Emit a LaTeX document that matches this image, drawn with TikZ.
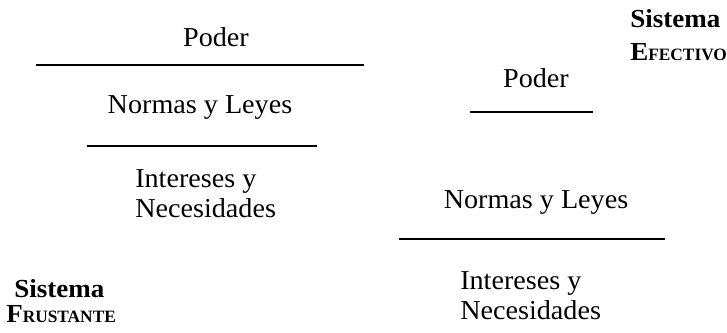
\documentclass[tikz,border=0pt]{standalone}
\usepackage{fontspec}
\setmainfont[FakeStretch=1.03]{Liberation Serif}
\newfontfamily\boldserif[FakeStretch=1.04]{Liberation Serif Bold}
\newfontfamily\boldsmall{Liberation Serif Bold}
\newcommand\fakesc[1]{{\boldsmall\fontsize{13}{15}\selectfont #1}}
\begin{document}
\begin{tikzpicture}[x=0.75pt,y=-0.75pt,
  lbl/.style={inner sep=0pt,anchor=base,font=\fontsize{20.5}{24}\selectfont},
  lblw/.style={inner sep=0pt,anchor=base west,font=\fontsize{20.5}{24}\selectfont},
  title/.style={inner sep=0pt,anchor=base west,font=\boldserif\fontsize{19.5}{22}\selectfont},
  rule/.style={line width=1.6pt}]
\useasboundingbox (0,0) rectangle (727,332);
% left: Sistema frustante
\node[lbl] (lp) at (216,46) {Poder};
\coordinate (l1a) at (36,65); \coordinate (l1b) at (364,65);
\draw[rule] (l1a) -- (l1b);
\node[lbl] (ln) at (200,113) {Normas y Leyes};
\coordinate (l2a) at (87,146); \coordinate (l2b) at (317,146);
\draw[rule] (l2a) -- (l2b);
\node[lblw] (li1) at (135,187) {Intereses y};
\node[lblw] (li2) at (135,217) {Necesidades};
\node[title] (ls) at (14,297) {Sistema};
\node[title] (lf) at (6,322) {F\fakesc{RUSTANTE}};
% right: Sistema efectivo
\node[title] (rs) at (630,27) {Sistema};
\node[title] (re) at (630,60) {E\fakesc{FECTIVO}};
\node[lbl] (rp) at (536,87) {Poder};
\coordinate (r1a) at (470,112); \coordinate (r1b) at (593,112);
\draw[rule] (r1a) -- (r1b);
\node[lbl] (rn) at (536,208) {Normas y Leyes};
\coordinate (r2a) at (399,239); \coordinate (r2b) at (665,239);
\draw[rule] (r2a) -- (r2b);
\node[lblw] (ri1) at (460,289) {Intereses y};
\node[lblw] (ri2) at (460,319) {Necesidades};
\end{tikzpicture}
\end{document}
